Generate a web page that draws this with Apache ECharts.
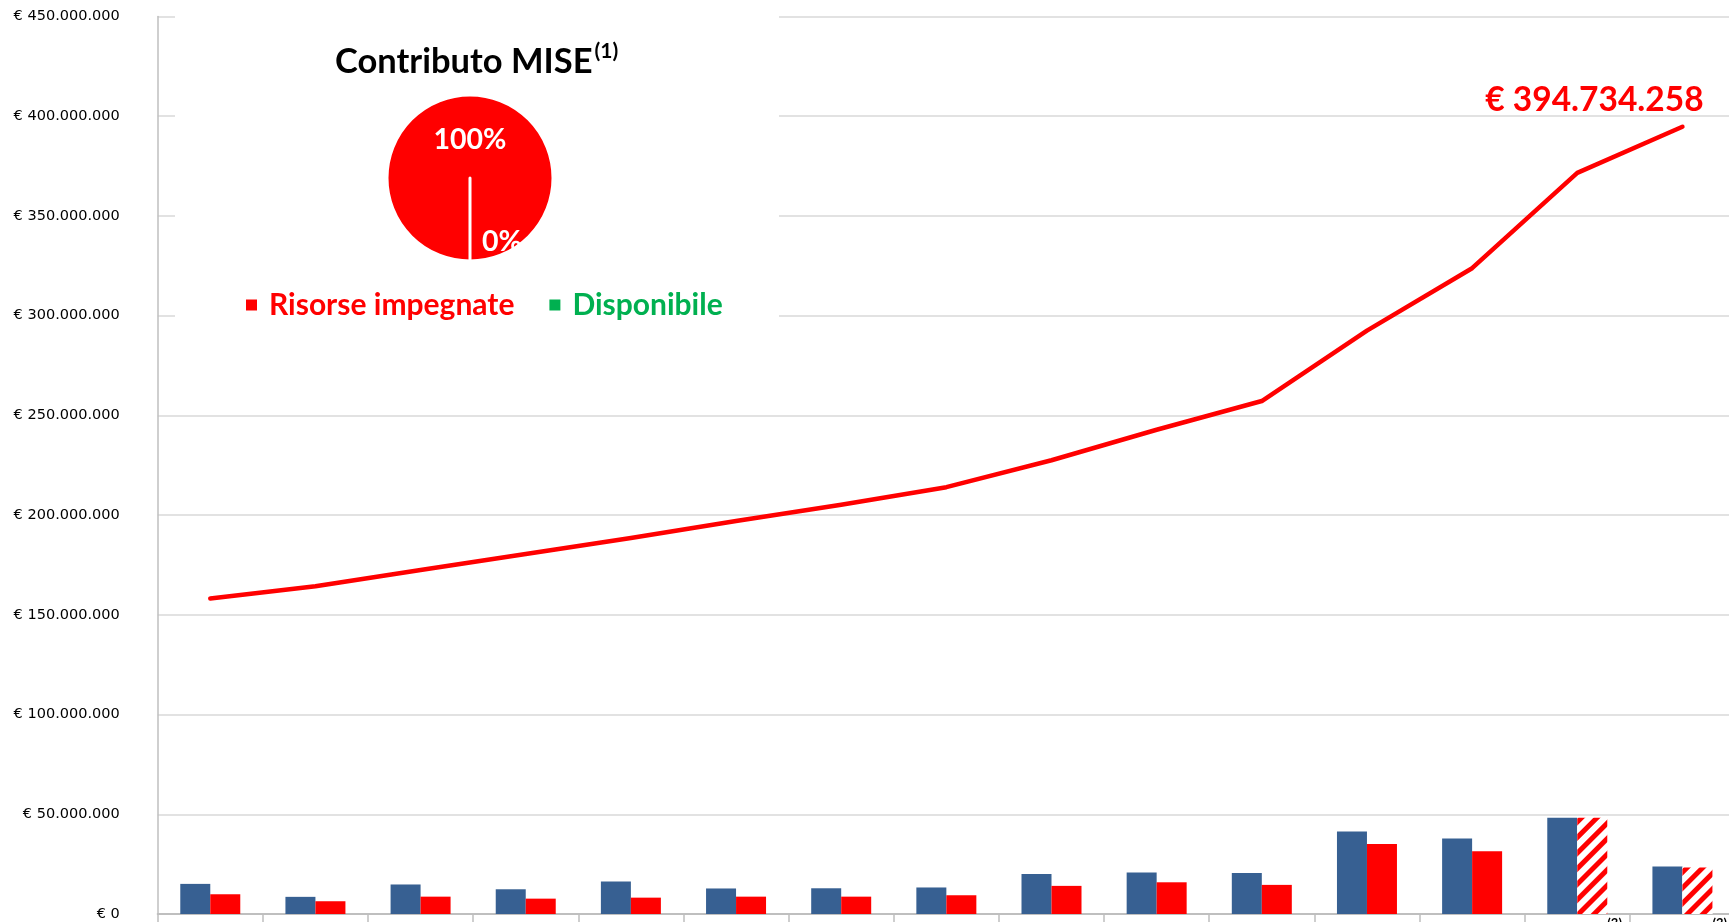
<!DOCTYPE html>
<html>
<head>
<meta charset="utf-8">
<script src="https://cdn.jsdelivr.net/npm/echarts@6/dist/echarts.min.js"></script>
<style>
html,body{margin:0;padding:0;background:#fff;}
#main{width:1729px;height:922px;}
</style>
</head>
<body>
<div id="main"></div>
<script>
// ---- data ----
const categories = ['2006','2007','2008','2009','2010','2011','2012','2013','2014','2015','2016','2017','2018','2019','2020'];
const categoryNotes = ['','','','','','','','','','','','','','(3)','(3)'];
const contributoAnnuo = [15100000, 8600000, 14800000, 12400000, 16300000, 12800000, 12900000, 13300000, 20100000, 20800000, 20500000, 41400000, 37900000, 48200000, 23800000];
const impegnatoAnnuo  = [9900000, 6400000, 8700000, 7700000, 8200000, 8700000, 8700000, 9400000, 14100000, 15900000, 14600000, 35100000, 31500000, 48200000, 23300000];
const impegnatoCumulato = [158200000, 164300000, 172500000, 180500000, 188500000, 197000000, 205200000, 214000000, 227500000, 242800000, 257200000, 292500000, 323800000, 371600000, 394734258];
const hatchedIdx = [13, 14];
const pieTitle = 'Contributo MISE';
const pieTitleNote = '(1)';
const pieNames = ['Risorse impegnate', 'Disponibile'];
const pieValues = [100, 0];
const yMin = 0, yMax = 450000000, yInterval = 50000000;

// ---- helpers ----
function fmt(v){ return String(Math.round(v)).replace(/\B(?=(\d{3})+(?!\d))/g, '.'); }
const F = 'Lato, "Open Sans", sans-serif';
const RED = '#ff0000', BLUE = '#376092', GREEN = '#00b050';

const redData = impegnatoAnnuo.map((v, i) => hatchedIdx.includes(i) ? {
  value: v,
  itemStyle: {
    color: '#ffffff',
    decal: { symbol: 'rect', symbolSize: 1, dashArrayX: [1, 0], dashArrayY: [5, 6], rotation: -Math.PI / 4, color: RED, backgroundColor: '#ffffff' }
  }
} : v);

const last = impegnatoCumulato.length - 1;
const lineData = impegnatoCumulato.map((v, i) => i === last ? {
  value: v,
  label: {
    show: true, position: 'inside', offset: [-88, -27],
    formatter: p => '€ ' + fmt(p.value),
    color: RED, fontSize: 33.5, fontWeight: 'bold', fontFamily: F
  }
} : v);

const chart = echarts.init(document.getElementById('main'), null, { renderer: 'canvas' });
chart.setOption({
  animation: false,
  backgroundColor: '#ffffff',
  title: {
    text: '{a|' + pieTitle + '}{b|' + pieTitleNote + '}',
    left: 335, top: 41, padding: 0, z: 6,
    textStyle: {
      rich: {
        a: { fontSize: 34.5, fontWeight: 'bold', fontFamily: F, color: '#000', lineHeight: 42 },
        b: { fontSize: 21, fontWeight: 'bold', fontFamily: F, color: '#000', verticalAlign: 'top', lineHeight: 42, padding: [0, 0, 0, 2] }
      }
    }
  },
  legend: {
    data: pieNames.map((n, i) => ({ name: n, textStyle: { color: i === 0 ? RED : GREEN } })),
    left: 244, top: 290, icon: 'rect', itemWidth: 13, itemHeight: 13, itemGap: 33,
    padding: 0, selectedMode: false, z: 4,
    textStyle: { fontSize: 30, fontWeight: 'bold', fontFamily: F, padding: [0, 0, 0, 6] }
  },
  graphic: [{
    type: 'rect', z: 1, silent: true,
    shape: { x: 175, y: 0, width: 604, height: 335 },
    style: { fill: '#ffffff' }
  }],
  grid: { left: 157.7, right: -6, top: 16.5, bottom: 8, containLabel: false, outerBoundsMode: 'none' },
  xAxis: {
    type: 'category', data: categories,
    axisLine: { show: true, lineStyle: { color: '#bfbfbf', width: 2 } },
    axisTick: { show: true, interval: 0, length: 8, lineStyle: { color: '#bfbfbf', width: 1.5 } },
    axisLabel: {
      interval: 0, margin: 3, align: 'left', padding: [0, 0, 0, 30],
      formatter: (v, i) => categoryNotes[i],
      fontSize: 13, fontWeight: 'bold', fontFamily: F, color: '#000'
    },
    splitLine: { show: false }
  },
  yAxis: {
    type: 'value', min: yMin, max: yMax, interval: yInterval,
    axisLine: { show: true, lineStyle: { color: '#bfbfbf', width: 1.5 } },
    axisTick: { show: false },
    axisLabel: {
      margin: 38, formatter: v => '€ ' + fmt(v),
      fontSize: 14.5, fontFamily: '"DejaVu Sans", Verdana, sans-serif', color: '#000'
    },
    splitLine: { show: true, lineStyle: { color: '#d9d9d9', width: 1.5 } }
  },
  series: [
    { name: 'Contributo annuo', type: 'bar', data: contributoAnnuo, barWidth: 30, barGap: '0%', z: 2,
      itemStyle: { color: BLUE } },
    { name: 'Impegnato annuo', type: 'bar', data: redData, barWidth: 30, barGap: '0%', z: 2,
      itemStyle: { color: RED } },
    { name: 'Impegnato cumulato', type: 'line', data: lineData, z: 3,
      symbol: 'circle', symbolSize: 0.1, showSymbol: true,
      lineStyle: { color: RED, width: 4.5, join: 'round', cap: 'round' },
      itemStyle: { color: RED } },
    { name: pieTitle, type: 'pie', center: [470, 178], radius: 83, startAngle: 270, z: 3,
      minAngle: 0, avoidLabelOverlap: false, stillShowZeroSum: true,
      data: pieNames.map((n, i) => ({
        name: n, value: pieValues[i],
        itemStyle: { color: i === 0 ? RED : GREEN },
        label: i === 1 ? { offset: [32, 19] } : { offset: [0, 6] }
      })),
      itemStyle: { borderColor: '#ffffff', borderWidth: 3 },
      label: { show: true, position: 'inside', formatter: '{d}%', color: '#ffffff', fontSize: 28.5, fontWeight: 'bold', fontFamily: F },
      labelLine: { show: false },
      emphasis: { disabled: true }
    }
  ]
});
</script>
</body>
</html>
